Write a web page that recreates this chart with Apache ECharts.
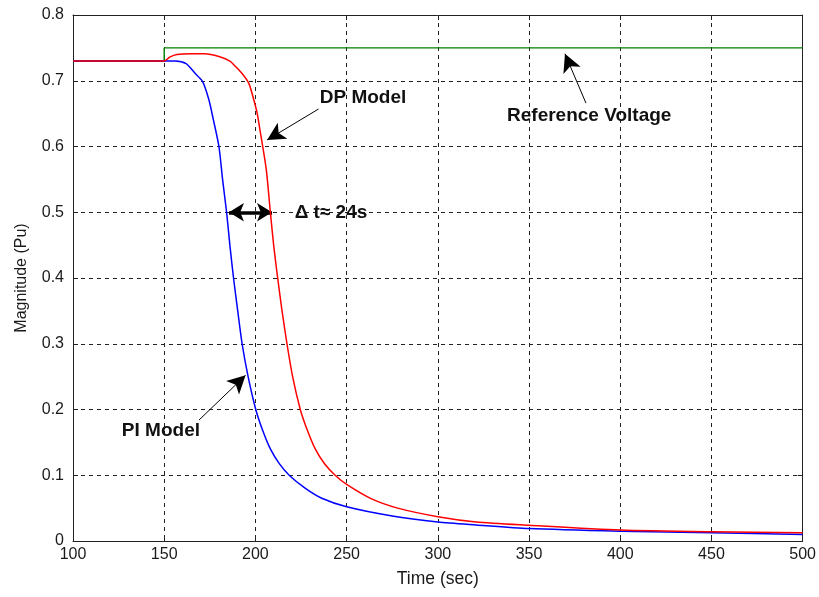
<!DOCTYPE html>
<html>
<head>
<meta charset="utf-8">
<script src="https://cdn.jsdelivr.net/npm/echarts@6/dist/echarts.min.js"></script>
<style>
html,body{margin:0;padding:0;background:#fff;}
#chart{width:819px;height:597px;}
</style>
</head>
<body>
<div id="chart"></div>
<script>
// ---- data ----
var piTime = [100, 150, 156, 162, 167, 171, 174.5, 177, 180, 182, 184.2, 186, 188, 190.3, 192.7, 196, 200.2, 204, 208.2, 213, 218.5, 227.4, 236.4, 250, 275, 300, 321, 350, 400, 450, 500];
var piMag  = [0.73, 0.73, 0.73, 0.726, 0.711, 0.699, 0.671, 0.64, 0.6, 0.55, 0.5, 0.45, 0.4, 0.35, 0.3, 0.25, 0.2, 0.168, 0.14, 0.118, 0.1, 0.08, 0.065, 0.052, 0.038, 0.029, 0.0245, 0.019, 0.015, 0.0125, 0.010];

var dpTime = [100, 150, 153, 157, 165, 172, 180, 186, 189, 192.7, 196.4, 199.1, 201, 202.8, 204, 206, 208.2, 210, 212.2, 214.6, 217.3, 220.4, 224.6, 228, 232.8, 238, 243.7, 250, 263.7, 278, 300, 321, 350, 400, 450, 500];
var dpMag  = [0.73, 0.73, 0.736, 0.740, 0.741, 0.741, 0.737, 0.73, 0.722, 0.711, 0.696, 0.671, 0.65, 0.62, 0.6, 0.564, 0.5, 0.45, 0.4, 0.35, 0.3, 0.25, 0.2, 0.172, 0.14, 0.117, 0.1, 0.086, 0.064, 0.05, 0.037, 0.029, 0.024, 0.0167, 0.014, 0.0127];

var refTime = [100, 150, 150, 500];
var refMag  = [0.73, 0.73, 0.75, 0.75];

var xTicks = {min: 100, max: 500, step: 50};
var yTicks = {min: 0, max: 0.8, step: 0.1};

// annotation anchors (data coordinates)
var labelNames = ['Reference Voltage', 'DP Model', 'PI Model', '\u0394 t\u2248 24s'];
var labelPos   = [[383, 0.646], [259, 0.674], [148.2, 0.167], [221.5, 0.499]];
var arrowFrom  = [[381.2, 0.666], [234.6, 0.657], [169.1, 0.184]];
var arrowTo    = [[369.7, 0.741], [206.4, 0.610], [194.6, 0.252]];
var deltaFrom  = [185.5, 0.5];
var deltaTo    = [209.1, 0.5];

function zip(a, b) { return a.map(function (v, i) { return [v, b[i]]; }); }

var FONT = 'Arial, "Liberation Sans", sans-serif';
var chart = echarts.init(document.getElementById('chart'), null, {renderer: 'canvas'});

var gridDash = {color: '#222', width: 1, type: [4, 4]};

function xAxisDef(pos, showLabel) {
  return {
    type: 'value', position: pos, min: xTicks.min, max: xTicks.max, interval: xTicks.step,
    name: showLabel ? 'Time (sec)' : '', nameLocation: 'middle', nameGap: 29,
    nameTextStyle: {fontFamily: FONT, fontSize: 17.5, color: '#1a1a1a'},
    axisLine: {show: true, onZero: false, lineStyle: {color: '#222', width: 1}},
    axisTick: {show: true, inside: true, length: 5, lineStyle: {color: '#222'}},
    axisLabel: {show: showLabel, fontFamily: FONT, fontSize: 16, color: '#1a1a1a', margin: 6},
    splitLine: {show: showLabel, lineStyle: gridDash}
  };
}
function yAxisDef(pos, showLabel) {
  return {
    type: 'value', position: pos, min: yTicks.min, max: yTicks.max, interval: yTicks.step,
    name: showLabel ? 'Magnitude (Pu)' : '', nameLocation: 'middle', nameGap: 43, nameRotate: 90,
    nameTextStyle: {fontFamily: FONT, fontSize: 16, color: '#1a1a1a'},
    axisLine: {show: true, onZero: false, lineStyle: {color: '#222', width: 1}},
    axisTick: {show: true, inside: true, length: 5, lineStyle: {color: '#222'}},
    axisLabel: {show: showLabel, fontFamily: FONT, fontSize: 16, color: '#1a1a1a', margin: 9,
      formatter: function (v) { return (Math.round(v * 10) / 10).toString(); }},
    splitLine: {show: showLabel, lineStyle: gridDash}
  };
}

var annoLabelStyle = {show: true, fontFamily: FONT, fontSize: 19, fontWeight: 'bold', color: '#111'};

var option = {
  animation: false,
  backgroundColor: '#fff',
  grid: {left: 73, right: 14, top: 15, bottom: 56, containLabel: false},
  xAxis: [xAxisDef('bottom', true), xAxisDef('top', false)],
  yAxis: [yAxisDef('left', true), yAxisDef('right', false)],
  series: [
    {
      type: 'line', name: 'Reference Voltage', data: zip(refTime, refMag), showSymbol: false,
      lineStyle: {color: '#008000', width: 1.4}, z: 3
    },
    {
      type: 'line', name: 'PI Model', data: zip(piTime, piMag), showSymbol: false, smooth: 0.25,
      lineStyle: {color: '#0000ff', width: 1.5}, z: 4
    },
    {
      type: 'line', name: 'DP Model', data: zip(dpTime, dpMag), showSymbol: false, smooth: 0.25,
      lineStyle: {color: '#ff0000', width: 1.5}, z: 5,
      markLine: {
        silent: true, animation: false, precision: 3,
        symbol: ['none', 'arrow'], symbolSize: [14, 18],
        lineStyle: {color: '#000', width: 1, type: 'solid'},
        label: {show: false},
        data: arrowFrom.map(function (f, i) {
          return [{coord: f}, {coord: arrowTo[i]}];
        }).concat([[
          {coord: deltaFrom, symbol: 'arrow', symbolSize: [14, 15], lineStyle: {width: 3.5}},
          {coord: deltaTo, symbol: 'arrow', symbolSize: [14, 15]}
        ]])
      },
      markPoint: {
        silent: true, symbol: 'circle', symbolSize: 0,
        data: labelNames.map(function (n, i) {
          return {
            coord: labelPos[i], value: n,
            label: Object.assign({}, annoLabelStyle, {
              formatter: n, position: 'inside',
              align: i === 3 ? 'left' : 'center', verticalAlign: 'middle'
            })
          };
        })
      }
    }
  ]
};
chart.setOption(option);
</script>
</body>
</html>
